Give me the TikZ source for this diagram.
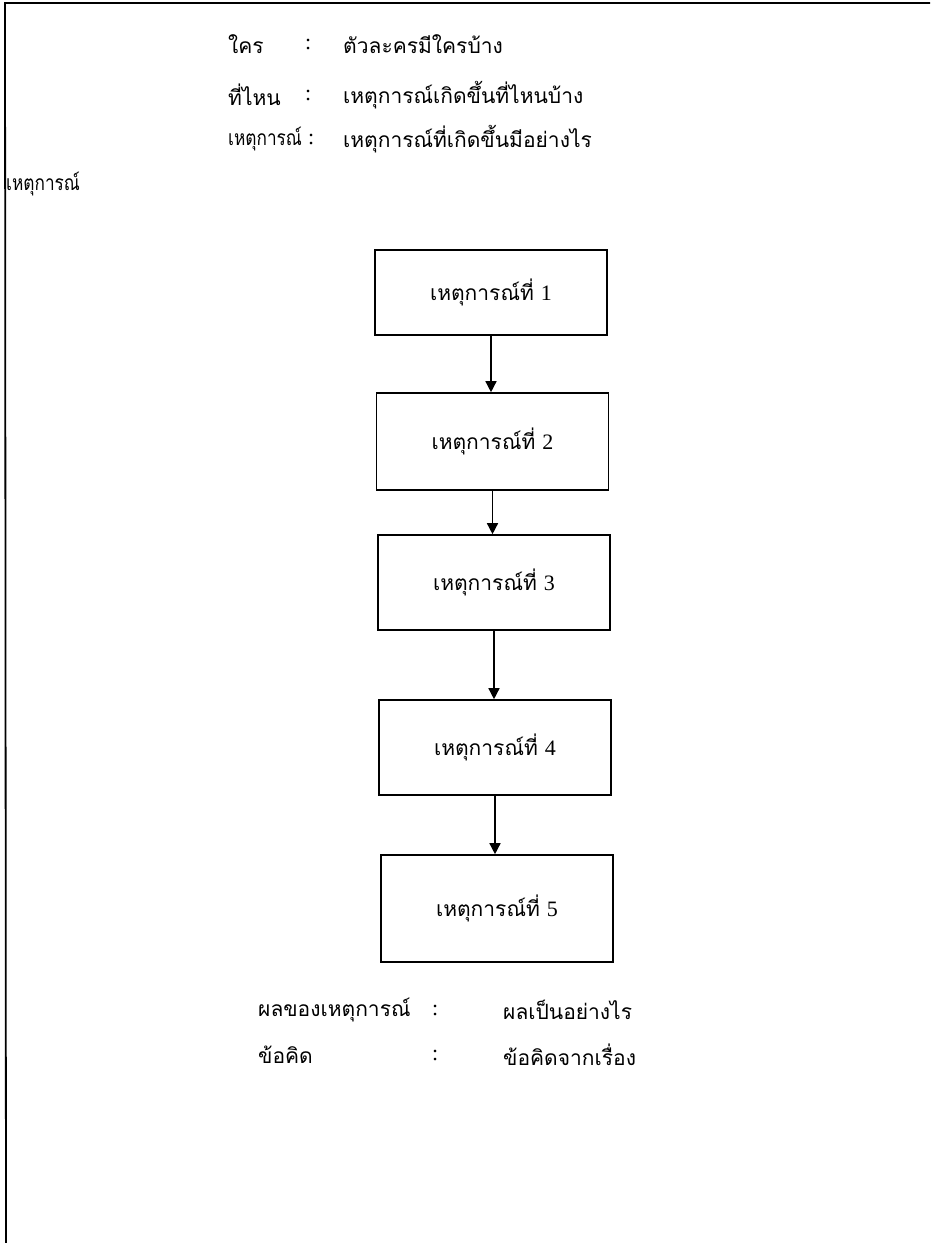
\documentclass[tikz,border=0pt]{standalone}
\usepackage{fontspec}
\setmainfont{Liberation Serif}
\newfontfamily\thaifont[Script=Thai]{Loma}
\usetikzlibrary{arrows.meta}
\newcommand{\narrowtxt}[1]{\scalebox{0.82}[1]{#1}}
\newcommand{\dg}[1]{{\rmfamily\fontsize{22}{25}\selectfont #1}}
\begin{document}
\begin{tikzpicture}[x=1pt,y=-1pt,
  txt/.style={anchor=west,inner sep=0pt,font=\thaifont\fontsize{21}{25}\selectfont},
  evbox/.style={draw,line width=1.6pt,minimum width=232pt,inner sep=0pt,font=\thaifont\fontsize{21}{25}\selectfont},
  arr/.style={line width=1.4pt,-{Triangle[length=11pt,width=11pt]}},
  frame/.style={line width=1.8pt}]
\useasboundingbox (0,0) rectangle (930,1243);
\fill[white] (0,0) rectangle (930,1243);
% frame
\coordinate (tl) at (5,3);
\coordinate (tr) at (930,3);
\coordinate (bl) at (6,1243);
\draw[frame] (tr) -- (tl) -- (bl);
% top info
\node[txt] (w1) at (228,44) {ใคร};
\node[txt] (c1) at (305,44) {\dg{:}};
\node[txt] (v1) at (343,44) {ตัวละครมีใครบ้าง};
\node[txt] (w2) at (228,95) {ที่ไหน};
\node[txt] (c2) at (305,95) {\dg{:}};
\node[txt] (v2) at (343,95) {เหตุการณ์เกิดขึ้นที่ไหนบ้าง};
\node[txt] (w3) at (228,139) {\narrowtxt{เหตุการณ์}};
\node[txt] (c3) at (308,139) {\dg{:}};
\node[txt] (v3) at (343,139) {เหตุการณ์ที่เกิดขึ้นมีอย่างไร};
\node[txt] (ev) at (6,184) {\narrowtxt{เหตุการณ์}};
% boxes
\node[evbox,minimum height=85pt] (b1) at (491,292.5) {เหตุการณ์ที่ \dg{1}};
\node[evbox,minimum height=97pt] (b2) at (492.5,441.5) {เหตุการณ์ที่ \dg{2}};
\node[evbox,minimum height=95pt] (b3) at (494,582.5) {เหตุการณ์ที่ \dg{3}};
\node[evbox,minimum height=95pt] (b4) at (495,747.5) {เหตุการณ์ที่ \dg{4}};
\node[evbox,minimum height=107pt] (b5) at (497,908.5) {เหตุการณ์ที่ \dg{5}};
\draw[arr] (b1.south) -- (b1.south |- b2.north);
\draw[arr] (b2.south) -- (b2.south |- b3.north);
\draw[arr] (b3.south) -- (b3.south |- b4.north);
\draw[arr] (b4.south) -- (b4.south |- b5.north);
% bottom info
\node[txt] (w4) at (258,1010) {ผลของเหตุการณ์};
\node[txt] (c4) at (432,1010) {\dg{:}};
\node[txt] (v4) at (503,1010) {ผลเป็นอย่างไร};
\node[txt] (w5) at (258,1055) {ข้อคิด};
\node[txt] (c5) at (432,1055) {\dg{:}};
\node[txt] (v5) at (503,1055) {ข้อคิดจากเรื่อง};
\end{tikzpicture}
\end{document}
